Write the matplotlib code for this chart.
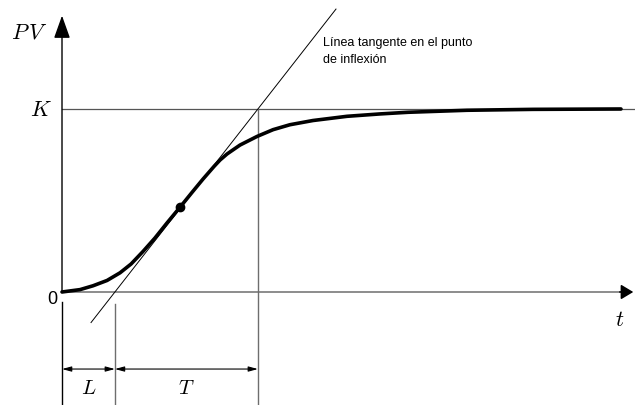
import matplotlib
matplotlib.use("Agg")
import matplotlib.pyplot as plt
import numpy as np

plt.rcParams["mathtext.fontset"] = "cm"

# step response (t in units of T, PV in units of K)
t_curve = [0.0, 0.126, 0.217, 0.315, 0.406, 0.483, 0.566, 0.650, 0.734, 0.825,
           0.909, 0.986, 1.063, 1.105, 1.154, 1.245, 1.364, 1.476, 1.594, 1.755,
           1.993, 2.224, 2.420, 2.832, 3.294, 3.909]
pv_curve = [0.0, 0.013, 0.034, 0.063, 0.105, 0.153, 0.221, 0.295, 0.377, 0.463,
            0.544, 0.617, 0.686, 0.721, 0.754, 0.803, 0.850, 0.887, 0.914, 0.937,
            0.960, 0.973, 0.982, 0.993, 0.998, 1.0]

K = 1.0
L = 0.37
T = 1.0
t_infl, pv_infl = 0.825, 0.463
tangent_t = [0.203, 1.916]

XMIN, XMAX = -0.4336, 4.007
YMIN, YMAX = -0.6175, 1.601

fig = plt.figure(figsize=(6.35, 4.06), dpi=100)
ax = fig.add_axes([0, 0, 1, 1])
ax.set_xlim(XMIN, XMAX)
ax.set_ylim(YMIN, YMAX)
ax.axis("off")

gray = "#6e6e6e"

# axes with arrows
ax.annotate("", xy=(0, 1.51), xytext=(0, 0),
            arrowprops=dict(arrowstyle="-|>,head_length=1.4,head_width=0.5",
                            color="black", lw=1.0, shrinkA=0, shrinkB=0))
ax.plot([0, 3.95], [0, 0], color=gray, lw=1.1)
ax.annotate("", xy=(3.995, 0), xytext=(3.9, 0),
            arrowprops=dict(arrowstyle="-|>,head_length=0.75,head_width=0.45",
                            color="black", lw=1.1, shrinkA=0, shrinkB=0))

# K level and T line
ax.plot([0, XMAX], [K, K], color="#555555", lw=0.9)
ax.plot([L + T, L + T], [K, YMIN], color=gray, lw=1.0)
ax.plot([L, L], [-0.0656, YMIN], color=gray, lw=1.0)
ax.plot([0, 0], [-0.0546, YMIN], color="black", lw=1.0)

# tangent line at the inflection point
tt = np.array(tangent_t)
ax.plot(tt, K * (tt - L) / T, color="black", lw=0.7)

# response curve
ax.plot(t_curve, pv_curve, color="black", lw=2.6,
        solid_capstyle="round", solid_joinstyle="round")
ax.plot(t_infl, pv_infl, "o", color="black", ms=6)

# dimension arrows for L and T
dim_y = -0.421
dim = dict(arrowstyle="<|-|>,head_length=0.55,head_width=0.15",
           color="black", lw=0.8, shrinkA=0, shrinkB=0)
ax.annotate("", xy=(L, dim_y), xytext=(0, dim_y), arrowprops=dim)
ax.annotate("", xy=(L + T, dim_y), xytext=(L, dim_y), arrowprops=dim)

ax.text(L / 2, -0.52, r"$L$", fontsize=15, ha="center", va="center")
ax.text(L + T / 2, -0.52, r"$T$", fontsize=15, ha="center", va="center")

ax.text(-0.098, 1.421, r"$P\,V$", fontsize=16, ha="right", va="center")
ax.text(-0.07, K, r"$K$", fontsize=16, ha="right", va="center")
ax.text(3.9, -0.15, r"$t$", fontsize=16, ha="center", va="center")
ax.text(-0.07, -0.038, "0", fontsize=13, family="Liberation Sans",
        ha="center", va="center")

ax.text(1.824, 1.32, "Línea tangente en el punto\nde inflexión", fontsize=9,
        family="Liberation Sans", ha="left", va="center", linespacing=1.55)

fig.savefig("out.png", dpi=100)
